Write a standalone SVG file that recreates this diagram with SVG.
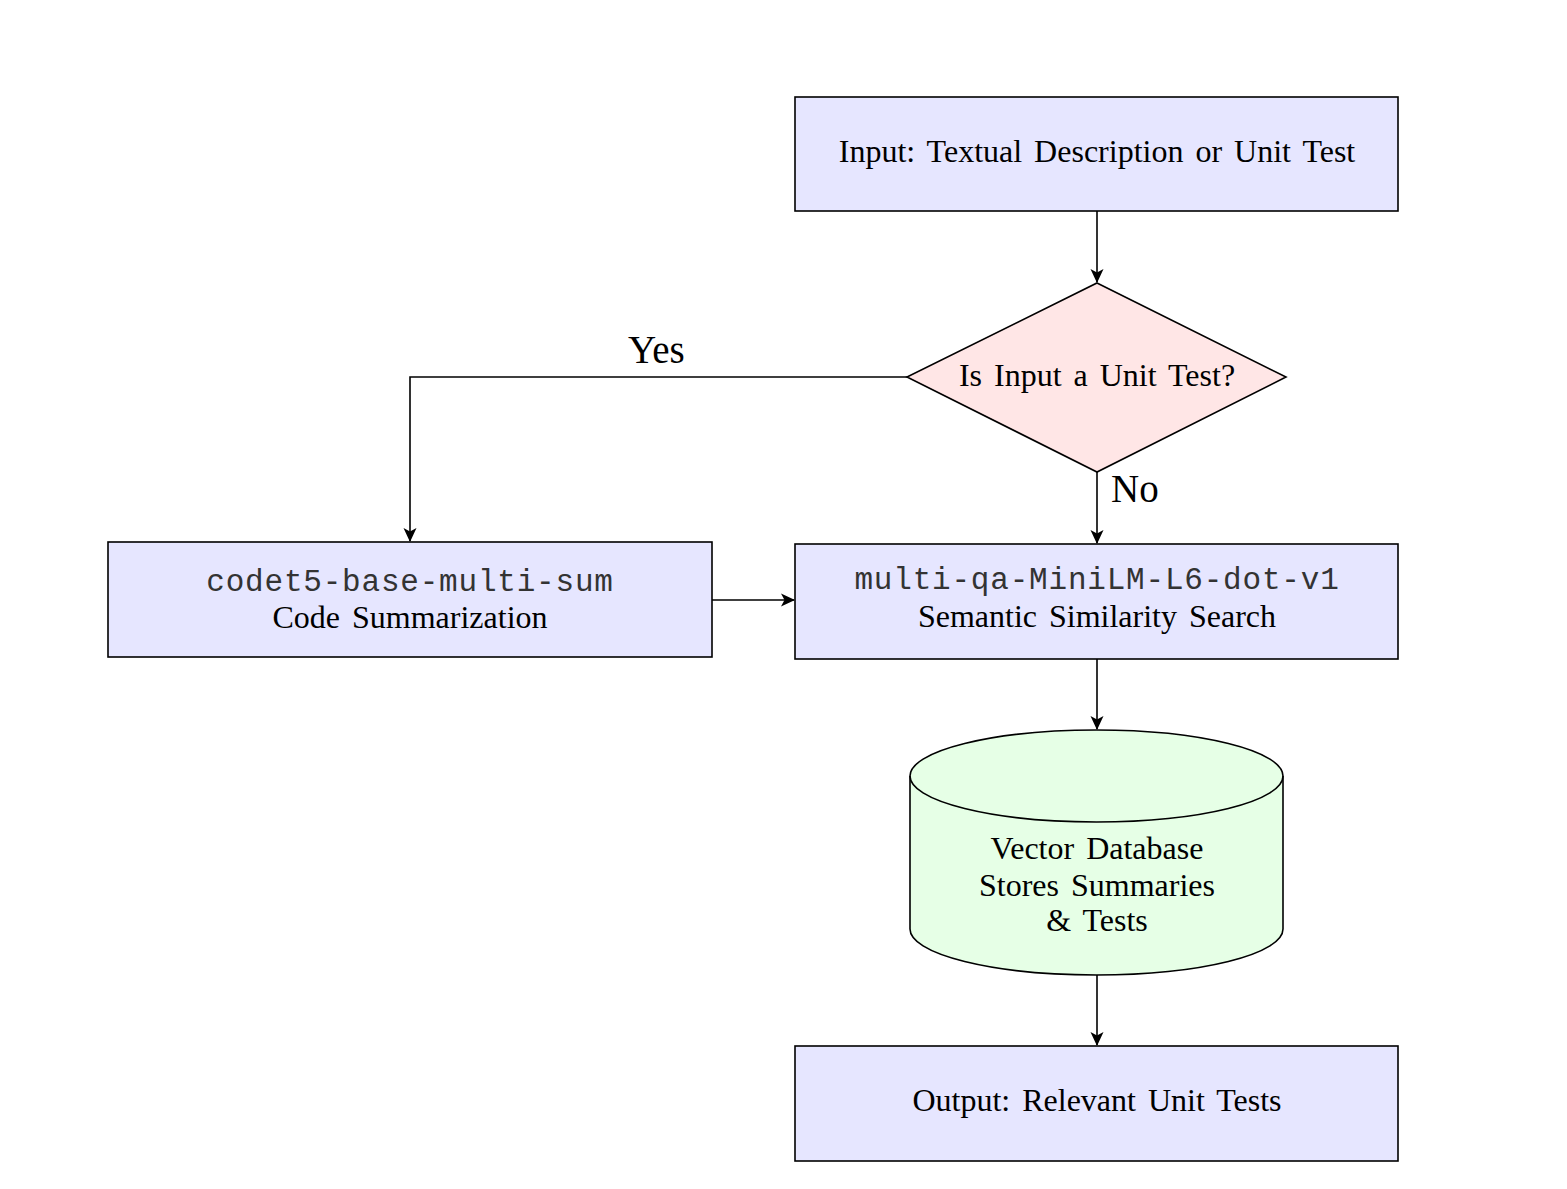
<svg xmlns="http://www.w3.org/2000/svg" width="1567" height="1189" viewBox="0 0 1567 1189">
<style>
.box{fill:#E6E6FF;stroke:#000;stroke-width:1.6}
.dia{fill:#FFE6E6;stroke:#000;stroke-width:1.6}
.db{fill:#E6FFE6;stroke:#000;stroke-width:1.6}
.t{font-family:"Liberation Serif","Times New Roman",serif;font-size:32px;fill:#000;text-anchor:middle;word-spacing:4px}
.m{font-family:"Liberation Mono","Courier New",monospace;font-size:31px;fill:#333;text-anchor:middle;letter-spacing:0.8px}
.lbl{font-family:"Liberation Serif","Times New Roman",serif;font-size:39px;fill:#000}
.c{fill:none;stroke:#000;stroke-width:1.6}
</style>
<defs>
<marker id="arr" viewBox="0 0 14 14" refX="13" refY="7" markerWidth="14" markerHeight="14" markerUnits="userSpaceOnUse" orient="auto">
<path d="M0,0.5 L14,7 L0,13.5 L3.5,7 Z" fill="#000"/>
</marker>
</defs>
<rect width="1567" height="1189" fill="#fff"/>
<g id="connectors">
<path class="c" d="M1097,211 L1097,282" marker-end="url(#arr)"/>
<path class="c" d="M907,377 L410,377 L410,541" marker-end="url(#arr)"/>
<path class="c" d="M1097,472 L1097,543" marker-end="url(#arr)"/>
<path class="c" d="M712,600 L794,600" marker-end="url(#arr)"/>
<path class="c" d="M1097,659 L1097,729" marker-end="url(#arr)"/>
<path class="c" d="M1097,975 L1097,1045" marker-end="url(#arr)"/>
<text class="lbl" x="628" y="363">Yes</text>
<text class="lbl" x="1111" y="502">No</text>
</g>
<g id="input">
<rect class="box" x="795" y="97" width="603" height="114"/>
<text class="t" x="1097" y="162">Input: Textual Description or Unit Test</text>
</g>
<g id="decision">
<polygon class="dia" points="1097,283 1286,377 1097,472 907,377"/>
<text class="t" x="1097" y="386">Is Input a Unit Test?</text>
</g>
<g id="codet5">
<rect class="box" x="108" y="542" width="604" height="115"/>
<text class="m" x="410" y="591">codet5-base-multi-sum</text>
<text class="t" x="410" y="628">Code Summarization</text>
</g>
<g id="minilm">
<rect class="box" x="795" y="544" width="603" height="115"/>
<text class="m" x="1097" y="589">multi-qa-MiniLM-L6-dot-v1</text>
<text class="t" x="1097" y="627">Semantic Similarity Search</text>
</g>
<g id="vectordb">
<path class="db" d="M910,776 A186.5,46 0 0 1 1283,776 L1283,929 A186.5,46 0 0 1 910,929 Z"/>
<path class="c" d="M910,776 A186.5,46 0 0 0 1283,776"/>
<text class="t" x="1097" y="859">Vector Database</text>
<text class="t" x="1097" y="896">Stores Summaries</text>
<text class="t" x="1097" y="931">&amp; Tests</text>
</g>
<g id="output">
<rect class="box" x="795" y="1046" width="603" height="115"/>
<text class="t" x="1097" y="1111">Output: Relevant Unit Tests</text>
</g>
</svg>
